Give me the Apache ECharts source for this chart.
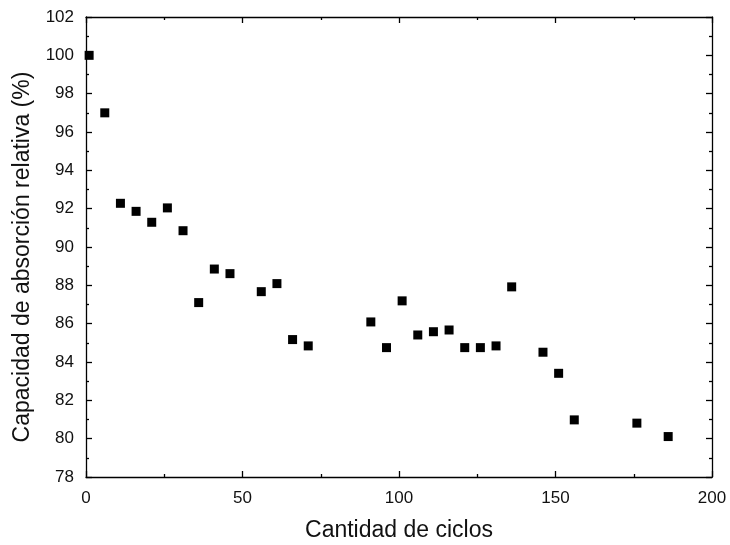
<!DOCTYPE html>
<html>
<head>
<meta charset="utf-8">
<script src="https://cdn.jsdelivr.net/npm/echarts@6/dist/echarts.min.js"></script>
<style>html,body{margin:0;padding:0;background:#fff}#c{width:730px;height:545px}</style>
</head>
<body>
<div id="c"></div>
<script>
var ciclos = [1, 6, 11, 16, 21, 26, 31, 36, 41, 46, 56, 61, 66, 71, 91, 96, 101, 106, 111, 116, 121, 126, 131, 136, 146, 151, 156, 176, 186];
var capacidad = [100.0, 97.0, 92.28, 91.86, 91.29, 92.04, 90.85, 87.1, 88.85, 88.61, 87.67, 88.09, 85.17, 84.84, 86.09, 84.75, 87.19, 85.41, 85.58, 85.67, 84.75, 84.75, 84.84, 87.92, 84.51, 83.41, 80.98, 80.81, 80.11];
var xTitle = 'Cantidad de ciclos';
var yTitle = 'Capacidad de absorción relativa (%)';

var data = ciclos.map(function (c, i) { return [c, capacidad[i]]; });
var font = 'Liberation Sans, Arial, sans-serif';
var lineStyle = { color: '#000', width: 1.3 };
var chart = echarts.init(document.getElementById('c'));
chart.setOption({
  animation: false,
  grid: { left: 86, right: 18, top: 17, bottom: 68, outerBoundsMode: 'none', containLabel: false },
  xAxis: [{
    type: 'value', min: 0, max: 200, interval: 50,
    name: xTitle, nameLocation: 'middle', nameGap: 42,
    nameTextStyle: { fontFamily: font, fontSize: 23, color: '#111' },
    axisLine: { onZero: false, lineStyle: lineStyle },
    axisTick: { inside: true, length: 6, lineStyle: lineStyle },
    minorTick: { show: true, splitNumber: 2, length: 3, lineStyle: lineStyle },
    axisLabel: { fontFamily: font, fontSize: 17, color: '#111', margin: 13 },
    splitLine: { show: false }
  }, {
    type: 'value', min: 0, max: 200, interval: 50, position: 'top',
    axisLine: { onZero: false, lineStyle: lineStyle },
    axisTick: { inside: true, length: 6, lineStyle: lineStyle },
    minorTick: { show: true, splitNumber: 2, length: 3, lineStyle: lineStyle },
    axisLabel: { show: false }, splitLine: { show: false }
  }],
  yAxis: [{
    type: 'value', min: 78, max: 102, interval: 2,
    name: yTitle, nameLocation: 'middle', nameGap: 52, nameRotate: 90,
    nameTextStyle: { fontFamily: font, fontSize: 23, color: '#111', padding: [0, 20, 0, 0] },
    axisLine: { onZero: false, lineStyle: lineStyle },
    axisTick: { inside: true, length: 6, lineStyle: lineStyle },
    minorTick: { show: true, splitNumber: 2, length: 3, lineStyle: lineStyle },
    axisLabel: { fontFamily: font, fontSize: 17, color: '#111', margin: 12 },
    splitLine: { show: false }
  }, {
    type: 'value', min: 78, max: 102, interval: 2, position: 'right',
    axisLine: { onZero: false, lineStyle: lineStyle },
    axisTick: { inside: true, length: 6, lineStyle: lineStyle },
    minorTick: { show: true, splitNumber: 2, length: 3, lineStyle: lineStyle },
    axisLabel: { show: false }, splitLine: { show: false }
  }],
  series: [{
    type: 'scatter', data: data, symbol: 'rect', symbolSize: 9,
    itemStyle: { color: '#000', opacity: 1 }, clip: false
  }]
});
</script>
</body>
</html>
